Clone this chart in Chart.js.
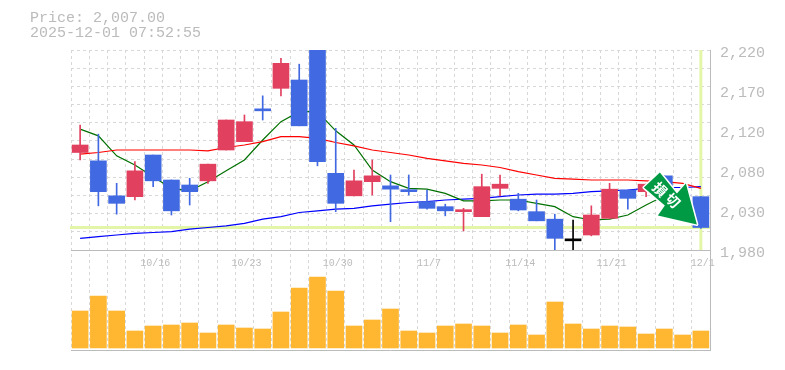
<!DOCTYPE html>
<html lang="ja">
<head>
  <meta charset="UTF-8" />
  <title>Price chart</title>
  <script src="https://cdn.jsdelivr.net/npm/chart.js"></script>
  <style>
    html, body { margin: 0; padding: 0; background: #fff; }
    #wrap { position: relative; width: 785px; height: 370px; overflow: hidden; }
    #info { position: absolute; left: 30px; top: 11px; font: 15px/15px "Liberation Mono", monospace; color: #bbb; white-space: pre; }
    canvas { position: absolute; left: 0; top: 0; }
  </style>
</head>
<body>
<div id="wrap">
  <canvas id="chart" width="785" height="370"></canvas>
  <div id="info">Price: 2,007.00
2025-12-01 07:52:55</div>
</div>
<script>
const dates = ['10/9','10/10','10/14','10/15','10/16','10/17','10/20','10/21','10/22','10/23','10/24','10/27','10/28','10/29','10/30','10/31','11/4','11/5','11/6','11/7','11/10','11/11','11/12','11/13','11/14','11/17','11/18','11/19','11/20','11/21','11/25','11/26','11/27','11/28','12/1'];
const shownDates = ['10/16','10/23','10/30','11/7','11/14','11/21','12/1'];

const opens  = [2097,2087,2045,2044,2094,2064,2058,2063,2100,2110,2149,2174,2184,2244,2072,2045,2062,2057,2052,2038,2032,2026,2020,2054,2041,2026,2017,1991,1998,2018,2052,2050,2069,2046,2044];
const closes = [2106,2050,2036,2075,2063,2027,2050,2083,2136,2134,2147,2204,2129,2086,2036,2063,2069,2053,2050,2030,2027,2028,2056,2059,2028,2015,1994,1991,2022,2053,2042,2059,2050,2030,2007];
const highs  = [2130,2119,2060,2086,2094,2064,2066,2083,2136,2142,2165,2210,2203,2244,2126,2076,2088,2070,2070,2052,2035,2030,2071,2070,2048,2040,2023,2016,2033,2060,2052,2059,2069,2056,2044];
const lows   = [2088,2033,2023,2040,2056,2022,2034,2060,2100,2110,2136,2165,2129,2081,2026,2045,2046,2014,2046,2029,2021,2003,2020,2045,2027,2015,1978,1978,1997,2018,2029,2044,2045,2028,2006];

const maRed   = [2095,2097,2100,2100,2100,2100,2100,2099,2103,2106,2110,2116,2116,2114,2109,2105,2100,2097,2094,2090,2087,2084,2082,2079,2074,2070,2066,2065,2064,2064,2064,2063,2062,2060,2054];
const maGreen = [2125,2117,2093,2082,2068,2054,2051,2062,2075,2088,2112,2134,2146,2146,2123,2106,2076,2062,2054,2053,2048,2039,2039,2040,2040,2036,2032,2020,2016,2017,2022,2034,2045,2034,2028];
const maBlue  = [1994,1996,1998,2000,2001,2002,2005,2007,2009,2012,2017,2020,2025,2027,2029,2030,2033,2035,2037,2038,2040,2041,2042,2044,2046,2047,2047,2048,2050,2051,2052,2054,2055,2055,2056];

const volumes = [37,52,37,17,22,23,25,15,23,20,19,36,60,71,57,22,28,39,17,15,22,24,22,15,23,13,46,24,19,22,21,14,19,13,17];

const priceTickValues = [2220,2172,2124,2076,2028,1980];
const priceTickLabels = ['2,220','2,170','2,120','2,080','2,030','1,980'];
const currentPrice = 2007;
const signalText = ['損','切'];

const RED = '#e2405f', BLUE = '#4169e1', BLACK = '#000', GRAY = '#bbb', GRID = '#d8d8d8', LIME = '#e3f6a8';
const priceMin = 1980, priceMax = 2220, gridSteps = 11;
const labelShift = 3.6; // labels sit 3px below their tick in the original

const candleColors = opens.map((o, i) => o === closes[i] ? BLACK : (closes[i] > o ? RED : BLUE));

// yellow-green cross for the last price, goes under the candles
const crossPlugin = {
  id: 'cross',
  beforeDatasetsDraw(chart) {
    const { ctx, scales: { x, y } } = chart;
    const py = y.getPixelForValue(currentPrice);
    const px = x.getPixelForValue(dates.length - 1);
    ctx.save();
    ctx.strokeStyle = LIME;
    ctx.lineWidth = 3;
    ctx.beginPath();
    ctx.moveTo(x.left - 1, py); ctx.lineTo(x.right, py);
    ctx.moveTo(px, y.top); ctx.lineTo(px, y.bottom);
    ctx.stroke();
    ctx.restore();
  }
};

// green signal arrow, pointing at the last candle
const arrowPlugin = {
  id: 'arrow',
  afterDatasetsDraw(chart) {
    const { ctx, scales: { x, y } } = chart;
    const tipX = x.getPixelForValue(dates.length - 1) - 4;
    const tipY = y.getPixelForValue(currentPrice) - 3;
    const shape = [[-37,-52],[-53,-37],[-32,-19],[-39,-9],[0,0],[-11,-41],[-20,-31]];
    ctx.save();
    ctx.translate(tipX, tipY);
    ctx.beginPath();
    shape.forEach((p, i) => i ? ctx.lineTo(p[0], p[1]) : ctx.moveTo(p[0], p[1]));
    ctx.closePath();
    ctx.fillStyle = '#009944';
    ctx.strokeStyle = '#fff';
    ctx.lineWidth = 3;
    ctx.lineJoin = 'round';
    ctx.stroke();
    ctx.fill();
    ctx.fillStyle = '#fff';
    ctx.font = 'bold 14px "Noto Sans CJK JP"';
    ctx.textAlign = 'center';
    ctx.textBaseline = 'middle';
    [[-37,-35],[-24,-24]].forEach((p, i) => {
      ctx.save();
      ctx.translate(p[0], p[1]);
      ctx.rotate(Math.PI / 4);
      ctx.fillText(signalText[i], 0, 0);
      ctx.restore();
    });
    ctx.restore();
  }
};

const noPadding = s => { s.paddingTop = s.paddingBottom = s.paddingLeft = s.paddingRight = 0; };
const lineSet = (data, color, width) => ({
  type: 'line', data, yAxisID: 'y', borderColor: color, borderWidth: width,
  pointRadius: 0, tension: 0, order: 3
});

new Chart(document.getElementById('chart'), {
  type: 'bar',
  plugins: [crossPlugin, arrowPlugin],
  data: {
    labels: dates,
    datasets: [
      lineSet(maRed, '#f00', 1.2),
      lineSet(maGreen, '#007000', 1.2),
      lineSet(maBlue, '#00f', 1.2),
      { data: highs.map((h, i) => [lows[i], h]), yAxisID: 'y', backgroundColor: candleColors, barThickness: 1, grouped: false, order: 2 },
      { data: opens.map((o, i) => [o, closes[i]]), yAxisID: 'y', backgroundColor: candleColors, barThickness: 16, minBarLength: 2, grouped: false, order: 1 },
      { data: volumes, yAxisID: 'vol', backgroundColor: '#ffb732', barThickness: 16, grouped: false, order: 1 }
    ]
  },
  options: {
    responsive: false,
    animation: false,
    layout: { padding: { left: 71, top: 50, right: 0, bottom: 20 } },
    plugins: { legend: { display: false }, tooltip: { enabled: false } },
    scales: {
      x: {
        type: 'category',
        position: { vol: 98 },
        offset: true,
        grid: { offset: true, color: GRID, drawTicks: false },
        border: { display: true, color: GRAY, dash: [3, 3], width: 1 },
        ticks: {
          autoSkip: false, maxRotation: 0, padding: 7, labelOffset: 2, color: GRAY,
          font: { family: '"Liberation Mono", monospace', size: 10 },
          callback(v) { const d = this.getLabelForValue(v); return shownDates.includes(d) ? d : ''; }
        },
        afterFit: noPadding
      },
      y: {
        position: 'right',
        stack: 'main',
        stackWeight: 2,
        min: priceMin,
        max: priceMax,
        afterBuildTicks(s) {
          const grid = [];
          for (let i = 0; i <= gridSteps; i++) grid.push(priceMin + (priceMax - priceMin) * i / gridSteps);
          s.ticks = grid.concat(priceTickValues.map(v => v - labelShift)).map(value => ({ value }));
        },
        grid: {
          color: c => c.index <= gridSteps ? GRID : 'transparent',
          drawTicks: false
        },
        border: { display: true, color: GRAY, dash: [3, 3] },
        ticks: {
          autoSkip: false, padding: 10, color: GRAY,
          font: { family: '"Liberation Mono", monospace', size: 15 },
          callback(v) {
            const i = priceTickValues.findIndex(p => p - labelShift === v);
            return i < 0 ? '' : priceTickLabels[i];
          }
        },
        afterFit(s) { s.width = 75; noPadding(s); }
      },
      vol: {
        position: 'right',
        stack: 'main',
        stackWeight: 1,
        min: -2,
        max: 98,
        afterBuildTicks(s) { s.ticks = [{ value: -2 }]; },
        grid: { color: GRAY, drawTicks: false },
        border: { display: true, color: GRAY },
        ticks: { display: false },
        afterFit(s) { s.width = 75; noPadding(s); }
      }
    }
  }
});
</script>
</body>
</html>
